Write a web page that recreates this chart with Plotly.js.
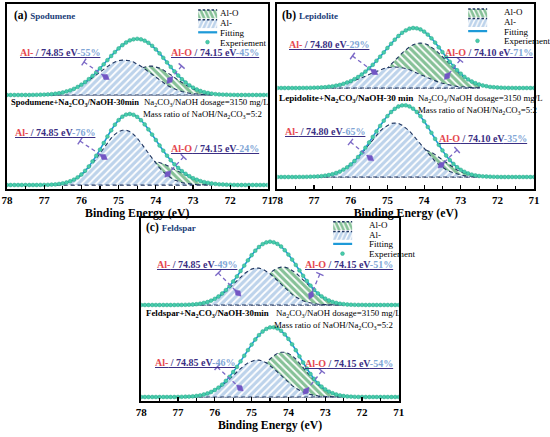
<!DOCTYPE html>
<html><head><meta charset="utf-8">
<script src="https://cdn.plot.ly/plotly-3.0.1.min.js"></script>
<style>html,body{margin:0;padding:0;background:#fff;}#chart{width:550px;height:437px;}</style>
</head><body><div id="chart"></div>
<script>
// ---------------- DATA ----------------
const E_EXP = [78.0,77.9,77.8,77.7,77.6,77.5,77.4,77.3,77.2,77.1,77.0,76.9,76.8,76.7,76.6,76.5,76.4,76.3,76.2,76.1,76.0,75.9,75.8,75.7,75.6,75.5,75.4,75.3,75.2,75.1,75.0,74.9,74.8,74.7,74.6,74.5,74.4,74.3,74.2,74.1,74.0,73.9,73.8,73.7,73.6,73.5,73.4,73.3,73.2,73.1,73.0,72.9,72.8,72.7,72.6,72.5,72.4,72.3,72.2,72.1,72.0,71.9,71.8,71.7,71.6,71.5,71.4,71.3,71.2,71.1,71.0];
const E_COMP = [77.0,76.9,76.8,76.7,76.6,76.5,76.4,76.3,76.2,76.1,76.0,75.9,75.8,75.7,75.6,75.5,75.4,75.3,75.2,75.1,75.0,74.9,74.8,74.7,74.6,74.5,74.4,74.3,74.2,74.1,74.0,73.9,73.8,73.7,73.6,73.5,73.4,73.3,73.2,73.1,73.0,72.9,72.8,72.7,72.6,72.5];
const TICK_VALUES = [78,77,76,75,74,73,72,71];
const TICK_LABELS = ['78','77','76','75','74','73','72','71'];

const SAMPLES = ['Spodumene','Lepidolite','Feldspar'];
const PANEL_TAGS = ['(a)','(b)','(c)'];
const TREATED_NAMES = ['Spodumene+Na<sub>2</sub>CO<sub>3</sub>/NaOH-30min','Lepidolite+Na<sub>2</sub>CO<sub>3</sub>/NaOH-30 min','Feldspar+Na<sub>2</sub>CO<sub>3</sub>/NaOH-30min'];
const DOSAGE_TEXT = 'Na<sub>2</sub>CO<sub>3</sub>/NaOH dosage=3150 mg/L';
const RATIO_TEXT = 'Mass ratio of NaOH/Na<sub>2</sub>CO<sub>3</sub>=5:2';
const PEAK_NAMES = ['Al-','Al-O'];
const AL_BE  = [74.85, 74.80, 74.85];
const ALO_BE = [74.15, 74.10, 74.15];
const AL_PCT_RAW = [55, 29, 49];
const ALO_PCT_RAW = [45, 71, 51];
const AL_PCT_TREATED = [76, 65, 46];
const ALO_PCT_TREATED = [24, 35, 54];
const LEGEND_NAMES = ['Al-O','Al-','Fitting','Experiement'];

// experimental spectra (raw = upper curve, treated = lower curve)
const spodRawExp = [0,0,0,0,0,0,0,0.1,0.2,0.3,0.4,0.6,0.9,1.3,1.8,2.5,3.6,4.7,6.2,8.1,10.3,12.9,15.9,19.1,22.7,26.7,30.7,34.9,39.0,42.9,46.6,49.8,52.5,54.6,55.7,56.2,55.7,54.3,52.2,49.2,45.6,41.6,37.2,32.6,28.1,23.6,19.5,15.8,12.5,9.7,7.4,5.5,4.0,2.8,2.0,1.4,0.9,0.6,0.4,0.3,0.2,0.1,0,0,0,0,0,0,0,0,0];
const spodTrtExp = [0,0,0,0,0,0,0,0,0,0.1,0.1,0.2,0.4,0.6,1.1,1.7,2.5,3.8,5.4,7.7,10.5,14.2,18.5,23.6,29.3,35.4,42.0,48.5,54.7,60.3,64.9,68.3,70.4,71.0,70.2,68.1,64.8,60.6,55.6,50.4,45.0,39.5,34.3,29.3,24.8,20.7,17.1,13.9,11.2,8.8,6.8,5.3,3.9,2.9,2.2,1.5,1.1,0.7,0.5,0.3,0.2,0.1,0,0,0,0,0,0,0,0,0];
const lepiRawExp = [0,0,0,0,0,0,0,0.1,0.1,0.2,0.3,0.4,0.6,0.8,1.3,1.7,2.4,3.1,4.2,5.5,6.9,8.9,11.0,13.5,16.4,19.7,23.2,27.2,31.3,35.6,40.0,44.2,48.3,52.0,55.2,57.6,59.3,60.0,59.7,58.6,56.4,53.4,49.7,45.4,40.7,35.9,31.0,26.2,21.9,17.8,14.3,11.2,8.6,6.5,4.8,3.5,2.5,1.8,1.1,0.8,0.5,0.3,0.2,0.1,0.1,0,0,0,0,0,0];
const lepiTrtExp = [0,0,0,0,0,0,0.1,0.1,0.2,0.3,0.4,0.6,0.9,1.4,2.0,2.8,4.0,5.4,7.4,9.7,12.6,16.0,20.0,24.4,29.3,34.6,40.1,45.6,51.1,56.3,60.9,65.0,68.2,70.5,71.6,71.7,70.6,68.3,65.0,60.8,55.7,50.1,44.2,38.1,32.2,26.6,21.5,16.9,13.1,9.8,7.2,5.2,3.6,2.4,1.6,1.0,0.7,0.5,0.3,0.2,0.1,0,0,0,0,0,0,0,0,0,0];
const feldRawExp = [0,0,0,0,0,0,0,0,0,0,0.1,0.1,0.2,0.3,0.5,0.8,1.3,2.1,3.0,4.4,6.2,8.5,11.5,14.9,18.9,23.6,28.6,34.0,39.4,44.7,49.8,54.3,58.0,60.9,62.6,63.3,62.7,61.1,58.5,54.8,50.4,45.4,40.1,34.6,29.2,24.0,19.4,15.2,11.6,8.7,6.4,4.5,3.1,2.1,1.3,0.9,0.5,0.3,0.2,0.1,0.1,0,0,0,0,0,0,0,0,0,0];
const feldTrtExp = [0,0,0,0,0,0,0,0,0,0,0.1,0.2,0.3,0.4,0.7,1.1,1.6,2.5,3.6,5.1,7.0,9.4,12.4,16.1,20.2,25.0,30.1,35.6,41.3,46.9,52.4,57.5,61.9,65.5,68.1,69.6,69.7,68.6,66.2,62.6,58.1,52.7,46.8,40.6,34.5,28.5,23.0,18.1,13.9,10.4,7.6,5.4,3.8,2.5,1.6,1.0,0.6,0.4,0.2,0.1,0.1,0,0,0,0,0,0,0,0,0,0];

// fitted components (on E_COMP)
const spodRawAl  = [0.4,0.6,0.9,1.3,1.8,2.5,3.5,4.6,6.0,7.8,9.8,12.1,14.7,17.4,20.3,23.3,26.1,28.8,31.1,32.9,34.3,34.9,34.9,34.3,32.9,31.1,28.8,26.1,23.3,20.3,17.4,14.7,12.1,9.8,7.8,6.0,4.6,3.5,2.5,1.8,1.3,0.9,0.6,0.4,0.3,0.2];
const spodRawAlO = [0,0,0,0,0,0,0.1,0.1,0.2,0.3,0.5,0.8,1.2,1.7,2.4,3.4,4.6,6.1,7.9,10.0,12.3,14.9,17.6,20.3,22.8,25.1,26.9,28.2,28.9,28.9,28.2,26.9,25.1,22.8,20.3,17.6,14.9,12.3,10.0,7.9,6.1,4.6,3.4,2.4,1.7,1.2];
const spodTrtAl  = [0.1,0.2,0.4,0.6,1.0,1.6,2.4,3.6,5.1,7.2,9.8,13.1,17.0,21.5,26.5,31.7,37.1,42.3,46.9,50.7,53.4,54.8,54.8,53.4,50.7,46.9,42.3,37.1,31.7,26.5,21.5,17.0,13.1,9.8,7.2,5.1,3.6,2.4,1.6,1.0,0.6,0.4,0.2,0.1,0.1,0];
const spodTrtAlO = [0,0,0,0,0.1,0.1,0.1,0.2,0.3,0.5,0.7,1.1,1.5,2.1,2.8,3.7,4.9,6.2,7.8,9.6,11.5,13.5,15.6,17.6,19.5,21.2,22.5,23.5,23.9,23.9,23.5,22.5,21.2,19.5,17.6,15.6,13.5,11.5,9.6,7.8,6.2,4.9,3.7,2.8,2.1,1.5];
const lepiRawAl  = [0.3,0.4,0.6,0.8,1.2,1.6,2.2,2.8,3.7,4.7,5.8,7.2,8.6,10.2,11.9,13.6,15.2,16.8,18.2,19.4,20.3,20.8,21.0,20.8,20.3,19.4,18.2,16.8,15.2,13.6,11.9,10.2,8.6,7.2,5.8,4.7,3.7,2.8,2.2,1.6,1.2,0.8,0.6,0.4,0.3,0.2];
const lepiRawAlO = [0,0,0,0,0.1,0.1,0.2,0.3,0.5,0.8,1.1,1.7,2.4,3.3,4.5,6.1,8.0,10.4,13.1,16.2,19.7,23.4,27.3,31.2,34.9,38.2,41.1,43.2,44.5,45.0,44.5,43.2,41.1,38.2,34.9,31.2,27.3,23.4,19.7,16.2,13.1,10.4,8.0,6.1,4.5,3.3];
const lepiTrtAl  = [0.4,0.6,0.9,1.4,2.0,2.8,4.0,5.4,7.3,9.6,12.4,15.7,19.5,23.6,28.1,32.8,37.4,41.8,45.9,49.3,51.8,53.5,54.0,53.5,51.8,49.3,45.9,41.8,37.4,32.8,28.1,23.6,19.5,15.7,12.4,9.6,7.3,5.4,4.0,2.8,2.0,1.4,0.9,0.6,0.4,0.2];
const lepiTrtAlO = [0,0,0,0,0,0,0,0,0.1,0.1,0.2,0.3,0.5,0.8,1.2,1.8,2.7,3.8,5.2,7.0,9.1,11.5,14.2,17.0,19.8,22.4,24.7,26.5,27.6,28.0,27.6,26.5,24.7,22.4,19.8,17.0,14.2,11.5,9.1,7.0,5.2,3.8,2.7,1.8,1.2,0.8];
const feldRawAl  = [0.1,0.1,0.2,0.3,0.5,0.8,1.3,2.0,2.9,4.2,5.9,8.0,10.6,13.6,16.9,20.6,24.3,27.9,31.2,33.9,35.9,36.9,36.9,35.9,33.9,31.2,27.9,24.3,20.6,16.9,13.6,10.6,8.0,5.9,4.2,2.9,2.0,1.3,0.8,0.5,0.3,0.2,0.1,0.1,0,0];
const feldRawAlO = [0,0,0,0,0,0,0,0.1,0.1,0.2,0.3,0.5,0.9,1.3,2.0,3.0,4.3,6.1,8.2,10.8,13.9,17.4,21.1,25.0,28.7,32.1,34.8,36.8,37.9,37.9,36.8,34.8,32.1,28.7,25.0,21.1,17.4,13.9,10.8,8.2,6.1,4.3,3.0,2.0,1.3,0.9];
const feldTrtAl  = [0.1,0.2,0.3,0.4,0.7,1.1,1.6,2.4,3.5,4.9,6.6,8.8,11.4,14.5,17.8,21.4,25.0,28.4,31.6,34.1,35.9,36.9,36.9,35.9,34.1,31.6,28.4,25.0,21.4,17.8,14.5,11.4,8.8,6.6,4.9,3.5,2.4,1.6,1.1,0.7,0.4,0.3,0.2,0.1,0,0];
const feldTrtAlO = [0,0,0,0,0,0,0,0.1,0.1,0.2,0.4,0.6,1.0,1.6,2.4,3.6,5.1,7.2,9.7,12.8,16.5,20.6,25.0,29.6,34.0,38.0,41.3,43.6,44.8,44.8,43.6,41.3,38.0,34.0,29.6,25.0,20.6,16.5,12.8,9.7,7.2,5.1,3.6,2.4,1.6,1.0];

// ---------------- LAYOUT / STYLE ----------------
const W = 550, H = 437;
const fx = v => v / W, fy = v => 1 - v / H;
const SERIF = 'Liberation Serif';
const C_RED = '#e5484f', C_NAVY = '#3b2f84', C_LBLUE = '#7fa6d6', C_ARROW = '#7b68c6';

const PANELS = [
  { ax:'', box:[7,4,271,189], off:[94,4], legend:'legend', leg:[194,12.7,9.8],
    series:[[spodRawExp,spodRawAl,spodRawAlO],[spodTrtExp,spodTrtAl,spodTrtAlO]],
    title:[12,15], cond:[9,102], dose:[144,102], ratio:[143,115], condSize:8.5,
    labels:[[61,53],[218,53],[56,132],[218,148]],
    arrows:[[85,62,107,77],[184,66,172,80],[81,141,105,157],[186,157,170,174]] },
  { ax:'2', box:[281,4,541,189], off:[101,12], legend:'legend2', leg:[464,11.7,9.7],
    series:[[lepiRawExp,lepiRawAl,lepiRawAlO],[lepiTrtExp,lepiTrtAl,lepiTrtAlO]],
    title:[284,15], cond:[281,98.5], dose:[421,98.5], ratio:[421,110.5], condSize:9.2,
    labels:[[333,44],[495,52],[329,131],[489,138]],
    arrows:[[357,56,379,72],[466,60,453,76],[355,142,375,158],[463,150,447,165]] },
  { ax:'3', box:[143,218,404,401], off:[96,4], legend:'legend3', leg:[329,224.5,9.7],
    series:[[feldRawExp,feldRawAl,feldRawAlO],[feldTrtExp,feldTrtAl,feldTrtAlO]],
    title:[146,227], cond:[146,313.5], dose:[278,313.5], ratio:[276,325], condSize:8.9,
    labels:[[200,264.5],[353,264.5],[198,362],[353,363]],
    arrows:[[221,273,241,293],[324,274,315,295],[220,367,243,388],[326,371,310,391]] }
];

const data = [], annotations = [], shapes = [];
const layout = {
  width: W, height: H, margin:{l:0,r:0,t:0,b:0},
  paper_bgcolor:'#fff', plot_bgcolor:'#fff', showlegend:true,
  font:{family:SERIF, color:'#000'}
};

function compTrace(vals, off, xa, ya, name, isAl, show, leg) {
  const x = E_COMP.concat([E_COMP[E_COMP.length-1], E_COMP[0], E_COMP[0]]);
  const y = vals.map(v => v + off).concat([off, off, vals[0] + off]);
  return { type:'scatter', x, y, xaxis:xa, yaxis:ya, mode:'lines', fill:'toself',
    fillcolor: isAl ? '#bfd5ec' : '#8cc59c',
    fillpattern: { shape: isAl ? '/' : '\\', bgcolor: isAl ? '#bdd3eb' : '#86c197', fgcolor:'#ffffff', size:5, solidity:0.35 },
    line:{color:'#1f3560', width:1.1, dash:'4px,3px'}, name, showlegend:show, legend:leg, hoverinfo:'skip' };
}

PANELS.forEach((P, pi) => {
  const xa = 'x' + P.ax, ya = 'y' + P.ax;
  const [x0,y0,x1,y1] = P.box;
  const hgt = y1 - y0;
  const axKey = 'xaxis' + P.ax, ayKey = 'yaxis' + P.ax;
  layout[axKey] = {
    domain:[fx(x0), fx(x1)], anchor: ya, range:[78,71], showline:true, mirror:true,
    linecolor:'#000', linewidth:2, ticks:'inside', ticklen:4, tickwidth:1.2, tickcolor:'#000',
    tickvals: TICK_VALUES, ticktext: TICK_LABELS, showgrid:false, zeroline:false,
    minor:{dtick:0.5, tick0:71, ticks:'inside', ticklen:3, tickcolor:'#000', showgrid:false},
    tickfont:{family:SERIF, size:11, color:'#000', weight:'bold'},
    title:{text:'Binding Energy (eV)', font:{family:SERIF, size:11.8, color:'#000', weight:'bold'}, standoff:3}
  };
  layout[ayKey] = {
    domain:[fy(y1), fy(y0)], anchor: xa, range:[0, hgt], showline:true, mirror:true,
    linecolor:'#000', linewidth:2, ticks:'', showticklabels:false, showgrid:false, zeroline:false
  };
  layout[P.legend] = { x: fx(P.leg[0]), y: fy(P.leg[1]), xanchor:'left', yanchor:'top',
    bgcolor:'rgba(0,0,0,0)', borderwidth:0, itemwidth:30, tracegroupgap:0, traceorder:'normal',
    font:{family:SERIF, size:9, color:'#000'} };

  P.series.forEach((S, si) => {
    const off = P.off[si];
    const show = si === 0;
    const [exp, al, alo] = S;
    data.push(compTrace(alo, off, xa, ya, LEGEND_NAMES[0], false, show, P.legend));
    data.push(compTrace(al, off, xa, ya, LEGEND_NAMES[1], true, show, P.legend));
    data.push({ type:'scatter', x:E_EXP, y:exp.map(v => v + off), xaxis:xa, yaxis:ya, mode:'lines',
      line:{color:'#1e9ad8', width:1.6, shape:'spline'}, name:LEGEND_NAMES[2], showlegend:show, legend:P.legend, hoverinfo:'skip' });
    data.push({ type:'scatter', x:E_EXP, y:exp.map(v => v + off), xaxis:xa, yaxis:ya, mode:'markers',
      marker:{size:3.8, color:'#48cdab', line:{color:'#2ba78a', width:0.5}}, name:LEGEND_NAMES[3], showlegend:show, legend:P.legend, hoverinfo:'skip' });
  });

  annotations.push({ xref:'paper', yref:'paper', x:fx(P.title[0]), y:fy(P.title[1]), xanchor:'left', yanchor:'middle', showarrow:false,
    text:'<b>' + PANEL_TAGS[pi] + '</b> <span style="color:#203c78;font-size:9px"><b>' + SAMPLES[pi] + '</b></span>',
    font:{family:SERIF, size:11.5, color:'#000'} });
  annotations.push({ xref:'paper', yref:'paper', x:fx(P.cond[0]), y:fy(P.cond[1]), xanchor:'left', yanchor:'middle', showarrow:false,
    text:'<b>' + TREATED_NAMES[pi] + '</b>', font:{family:SERIF, size:P.condSize, color:'#000'} });
  annotations.push({ xref:'paper', yref:'paper', x:fx(P.dose[0]), y:fy(P.dose[1]), xanchor:'left', yanchor:'middle', showarrow:false,
    text:DOSAGE_TEXT, font:{family:SERIF, size:8.8, color:'#000'} });
  annotations.push({ xref:'paper', yref:'paper', x:fx(P.ratio[0]), y:fy(P.ratio[1]), xanchor:'left', yanchor:'middle', showarrow:false,
    text:RATIO_TEXT, font:{family:SERIF, size:8.8, color:'#000'} });

  const pctSets = [[AL_PCT_RAW[pi], ALO_PCT_RAW[pi]], [AL_PCT_TREATED[pi], ALO_PCT_TREATED[pi]]];
  const bes = [AL_BE[pi], ALO_BE[pi]];
  P.labels.forEach((L, li) => {
    const which = li % 2, row = Math.floor(li / 2);
    const txt = '<span style="color:' + C_RED + '">' + PEAK_NAMES[which] + '</span>' +
      '<b style="color:' + C_NAVY + '"> / ' + bes[which].toFixed(2) + ' eV</b>' +
      '<span style="color:' + C_LBLUE + '">-' + pctSets[row][which] + '%</span>';
    annotations.push({ xref:'paper', yref:'paper', x:fx(L[0]), y:fy(L[1]), xanchor:'center', yanchor:'middle', showarrow:false,
      text: txt, font:{family:SERIF, size:10, color:C_NAVY, weight:'bold', lineposition:'under'} });
  });

  P.arrows.forEach(A => {
    const [tx,ty,dx,dy] = A;
    const len = Math.hypot(dx-tx, dy-ty), ux = (dx-tx)/len, uy = (dy-ty)/len, nx = -uy, ny = ux;
    shapes.push({ type:'line', xref:'paper', yref:'paper', x0:fx(tx), y0:fy(ty), x1:fx(dx), y1:fy(dy),
      line:{color:C_ARROW, width:1.3, dash:'4px,3px'} });
    shapes.push({ type:'line', xref:'paper', yref:'paper', x0:fx(tx+4*nx), y0:fy(ty+4*ny), x1:fx(tx-4*nx), y1:fy(ty-4*ny),
      line:{color:C_ARROW, width:1.4} });
    const pts = [[dx+4.5*ux, dy+4.5*uy],[dx+3*nx, dy+3*ny],[dx-4.5*ux, dy-4.5*uy],[dx-3*nx, dy-3*ny]];
    shapes.push({ type:'path', xref:'paper', yref:'paper',
      path:'M' + pts.map(p => fx(p[0]).toFixed(5) + ',' + fy(p[1]).toFixed(5)).join('L') + 'Z',
      fillcolor:'#7256c4', line:{color:'#7256c4', width:0.5} });
  });
});

layout.annotations = annotations;
layout.shapes = shapes;

Plotly.newPlot('chart', data, layout, {staticPlot:true, displayModeBar:false}).then(gd => {
  PANELS.forEach(P => {
    const g = gd.querySelector('g.' + P.legend);
    if (!g) return;
    g.setAttribute('transform', 'translate(' + P.leg[0] + ',' + P.leg[1] + ')');
    const sb = g.querySelector('g.scrollbox');
    if (sb) { sb.removeAttribute('clip-path'); sb.setAttribute('transform', ''); }
    const bg = g.querySelector('rect.bg'); if (bg) bg.setAttribute('style', 'fill:none;stroke:none');
    g.querySelectorAll('g.traces').forEach((it, i) => {
      it.setAttribute('transform', 'translate(0,' + (i * P.leg[2]) + ')');
      const t = it.querySelector('text.legendtext'); if (t) t.setAttribute('x', 26);
      it.querySelectorAll('g.legendfill, g.legendlines').forEach(el => el.setAttribute('transform', 'translate(1,0) scale(0.633,1.4)'));
      const sym = it.querySelector('g.legendsymbols'); if (sym) sym.setAttribute('transform', 'translate(-6.5,0)');
    });
  });
});
</script>
</body></html>
